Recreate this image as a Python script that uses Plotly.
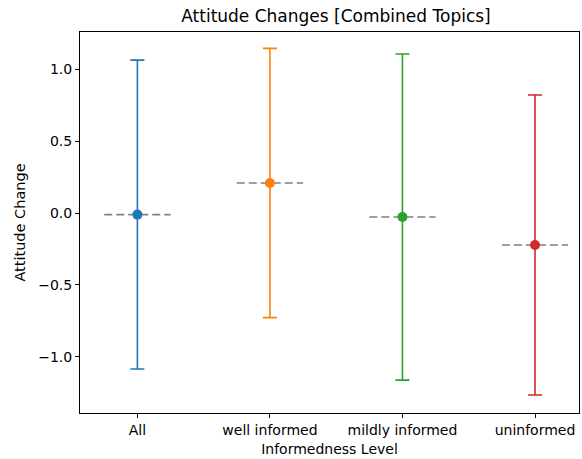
import plotly.graph_objects as go

categories = ["All", "well informed", "mildly informed", "uninformed"]
means = [-0.01, 0.21, -0.027, -0.222]
errors = [1.075, 0.937, 1.135, 1.044]
colors = ["#1f77b4", "#ff7f0e", "#2ca02c", "#d62728"]
y_ticks = [-1.0, -0.5, 0.0, 0.5, 1.0]
y_tick_labels = ["\u22121.0", "\u22120.5", "0.0", "0.5", "1.0"]

FONT = "DejaVu Sans"
fig = go.Figure()

# dashed mean lines
for i, m in enumerate(means):
    fig.add_trace(go.Scatter(
        x=[i - 0.25, i + 0.25], y=[m, m], mode="lines",
        line=dict(color="gray", width=1.6, dash="8px,4px"),
        showlegend=False, hoverinfo="skip"))

# error bars with points
for i, (c, m, e) in enumerate(zip(colors, means, errors)):
    fig.add_trace(go.Scatter(
        x=[i], y=[m], mode="markers",
        marker=dict(color=c, size=10),
        error_y=dict(type="data", array=[e], color=c, thickness=1.6, width=7),
        showlegend=False))

axis_common = dict(showline=True, linecolor="black", linewidth=1, mirror=True,
                   showgrid=False, zeroline=False, ticks="outside", ticklen=4,
                   tickcolor="black", tickfont=dict(family=FONT, size=14, color="black"))

fig.update_layout(
    width=582, height=459,
    margin=dict(l=80, r=3, t=32, b=46),
    paper_bgcolor="white", plot_bgcolor="white",
    font=dict(family=FONT, color="black"),
    title=dict(text="Attitude Changes [Combined Topics]", x=336 / 582,
               xanchor="center", y=1 - 16 / 459, yanchor="middle",
               font=dict(family=FONT, size=17, color="black")),
    xaxis=dict(range=[-0.433, 3.332], tickvals=list(range(len(categories))),
               ticktext=categories,
               title=dict(text="Informedness Level", standoff=7,
                          font=dict(family=FONT, size=14)),
               **axis_common),
    yaxis=dict(range=[-1.391, 1.261], tickvals=y_ticks, ticktext=y_tick_labels,
               title=dict(text="Attitude Change", standoff=9,
                          font=dict(family=FONT, size=14.5)),
               **axis_common),
)

fig.write_html("out.html")
